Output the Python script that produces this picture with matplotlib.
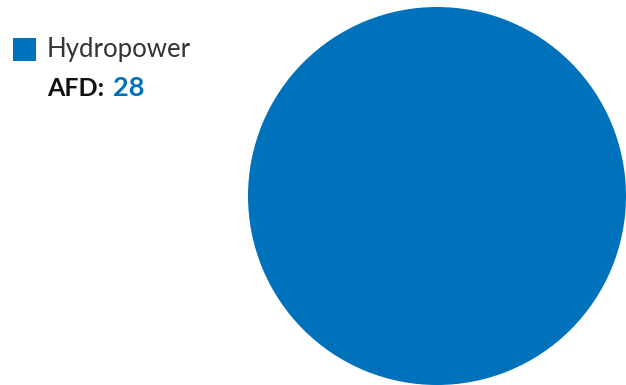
import matplotlib
matplotlib.use("Agg")
import matplotlib.pyplot as plt
from matplotlib.patches import Rectangle

labels = ["Hydropower"]
values = [28]
colors = ["#0072BC"]
metric_label = "AFD:"

W, H = 626, 385
fig = plt.figure(figsize=(W / 100, H / 100), dpi=100)
fig.patch.set_facecolor("white")

# pie axes (pixel box: x 248..626, y 7..385 from top)
ax = fig.add_axes([248 / W, 0 / H, 378 / W, 378 / H])
ax.pie(values, colors=colors, startangle=90, counterclock=False,
       wedgeprops=dict(linewidth=0))
ax.set_xlim(-1, 1)
ax.set_ylim(-1, 1)
ax.set_aspect("equal")
ax.axis("off")

# legend
fig.patches.append(Rectangle((13 / W, 1 - 61 / H), 23 / W, 23 / H,
                             transform=fig.transFigure, facecolor=colors[0],
                             edgecolor="none"))
fig.text(47 / W, 1 - 50 / H, labels[0], fontsize=18.5, family="Lato",
         fontweight="normal", color="#333333", va="center", ha="left")
t1 = fig.text(47 / W, 1 - 88 / H, metric_label, fontsize=18,
              family="Lato", fontweight="bold", color="#111111",
              va="center", ha="left")
fig.canvas.draw()
bb = t1.get_window_extent()
fig.text((bb.x1 + 9) / W, 1 - 88 / H, str(values[0]), fontsize=19.5,
         family="Lato", fontweight="bold", color=colors[0], va="center",
         ha="left")

fig.savefig("out.png", dpi=100)
